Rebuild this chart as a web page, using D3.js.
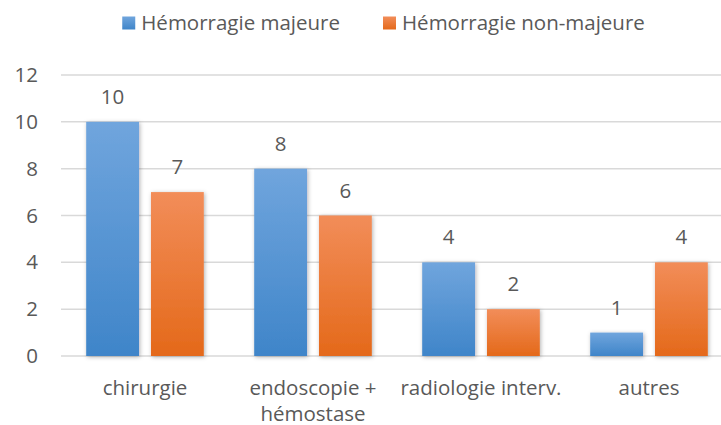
<!DOCTYPE html>
<html>
<head>
<meta charset="utf-8">
<script src="https://cdn.jsdelivr.net/npm/d3@7"></script>
<style>
  body { margin: 0; background: #fff; }
  text { font-family: "Open Sans", Lato, sans-serif; fill: #595959; }
</style>
</head>
<body>
<svg id="chart"></svg>
<script>
const categories = ['chirurgie', 'endoscopie + hémostase', 'radiologie interv.', 'autres'];
const seriesNames = ['Hémorragie majeure', 'Hémorragie non-majeure'];
const majeure = [10, 8, 4, 1];
const nonMajeure = [7, 6, 2, 4];
const yTicks = [0, 2, 4, 6, 8, 10, 12];

const width = 721;
const height = 425;
const fontSize = '20.5px';

const svg = d3.select('#chart').attr('width', width).attr('height', height);

const defs = svg.append('defs');
const grads = [
  {id: 'gBlue', top: '#70a5dd', bottom: '#3f85c9'},
  {id: 'gOrange', top: '#f28d59', bottom: '#e4691a'}
];
grads.forEach(g => {
  const lg = defs.append('linearGradient').attr('id', g.id)
    .attr('x1', 0).attr('y1', 0).attr('x2', 0).attr('y2', 1);
  lg.append('stop').attr('offset', '0%').attr('stop-color', g.top);
  lg.append('stop').attr('offset', '100%').attr('stop-color', g.bottom);
});
defs.append('filter').attr('id', 'shadow')
  .attr('x', '-20%').attr('y', '-20%').attr('width', '140%').attr('height', '140%')
  .append('feDropShadow')
  .attr('dx', 1).attr('dy', 1).attr('stdDeviation', 2)
  .attr('flood-color', '#000').attr('flood-opacity', 0.3);

const data = categories.map((c, i) => ({cat: c, values: [majeure[i], nonMajeure[i]]}));

const x0 = d3.scaleBand().domain(categories).range([61, 733]).paddingInner(0.3).paddingOuter(0.15);
const x1 = d3.scaleBand().domain([0, 1]).range([0, x0.bandwidth()]).paddingInner(0.185);
const y = d3.scaleLinear().domain([0, 12]).range([356, 75]);

// gridlines
svg.append('g')
  .selectAll('line')
  .data(yTicks)
  .enter()
  .append('line')
  .attr('x1', 61).attr('x2', width)
  .attr('y1', d => y(d)).attr('y2', d => y(d))
  .attr('stroke', '#d9d9d9').attr('stroke-width', 1.5);

// y axis labels
const yAxis = svg.append('g')
  .attr('transform', 'translate(38,0)')
  .call(d3.axisLeft(y).tickValues(yTicks).tickSize(0).tickPadding(0));
yAxis.select('.domain').remove();
yAxis.selectAll('text').style('font-size', fontSize).attr('fill', '#595959')
  .style('font-family', '"Open Sans", Lato, sans-serif');

// bars
const groups = svg.selectAll('.grp')
  .data(data)
  .enter()
  .append('g')
  .attr('class', 'grp')
  .attr('transform', d => 'translate(' + x0(d.cat) + ',0)');

groups.selectAll('rect')
  .data(d => d.values.map((v, k) => ({k: k, v: v})))
  .enter()
  .append('rect')
  .attr('x', d => x1(d.k))
  .attr('y', d => y(d.v))
  .attr('width', x1.bandwidth())
  .attr('height', d => y(0) - y(d.v))
  .attr('fill', d => d.k === 0 ? 'url(#gBlue)' : 'url(#gOrange)')
  .attr('filter', 'url(#shadow)');

groups.selectAll('.val')
  .data(d => d.values.map((v, k) => ({k: k, v: v})))
  .enter()
  .append('text')
  .attr('class', 'val')
  .attr('x', d => x1(d.k) + x1.bandwidth() / 2)
  .attr('y', d => y(d.v) - 18)
  .attr('text-anchor', 'middle')
  .style('font-size', fontSize)
  .text(d => d.v);

// category labels, wrapped like the original
const xAxis = svg.append('g').attr('transform', 'translate(0,' + y(0) + ')');
categories.forEach(c => {
  const cx = x0(c) + x0.bandwidth() / 2;
  const t = xAxis.append('text')
    .attr('x', cx)
    .attr('y', 39)
    .attr('text-anchor', 'middle')
    .style('font-size', fontSize);
  const words = c.split(' ');
  let line = [];
  let tspan = t.append('tspan').attr('x', cx);
  words.forEach(w => {
    line.push(w);
    tspan.text(line.join(' '));
    if (tspan.node().getComputedTextLength() > 165 && line.length > 1) {
      line.pop();
      tspan.text(line.join(' '));
      line = [w];
      tspan = t.append('tspan').attr('x', cx).attr('dy', 26).text(w);
    }
  });
});

// legend
const legend = svg.append('g').attr('transform', 'translate(0,23)');
const items = legend.selectAll('.item')
  .data(seriesNames)
  .enter()
  .append('g')
  .attr('class', 'item');
items.append('rect')
  .attr('x', 0).attr('y', -6.5)
  .attr('width', 13).attr('height', 13)
  .attr('fill', (d, i) => i === 0 ? 'url(#gBlue)' : 'url(#gOrange)');
items.append('text')
  .attr('x', 19).attr('y', 7)
  .style('font-size', fontSize)
  .text(d => d);
const w0 = items.nodes()[0].getBBox().width;
items.attr('transform', (d, i) => 'translate(' + (i === 0 ? 340 - w0 : 383) + ',0)');
</script>
</body>
</html>
